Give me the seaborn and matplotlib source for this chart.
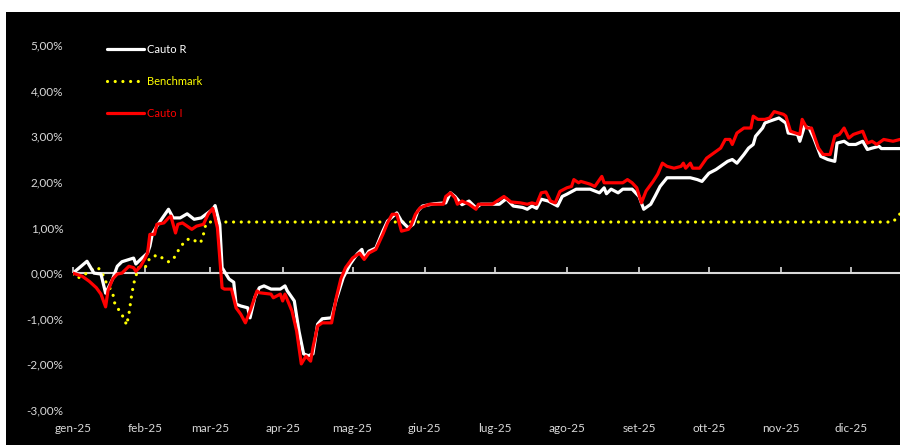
import numpy as np
import pandas as pd
import matplotlib
matplotlib.use("Agg")
import matplotlib.pyplot as plt
import matplotlib.ticker as mticker
from matplotlib.patches import Rectangle
import seaborn as sns

# ------------------------------
# Data (day of year from 1 Jan 2025, cumulative return in %)
# ------------------------------

r_days = [0, 6, 9, 12, 14, 17, 19, 21, 26, 27, 29, 32, 33, 34, 36, 38, 41, 43, 46, 49,
          52, 55, 60, 61, 63, 64, 67, 69, 70, 72, 75, 76, 78, 80, 82, 85, 89, 91, 92, 95,
          97, 99, 101, 103, 105, 107, 111, 113, 116, 119, 122, 124, 125, 127, 130, 133, 135, 139, 141, 144,
          146, 148, 150, 155, 160, 162, 164, 167, 170, 173, 175, 183, 186, 189, 193, 195, 197, 199, 201, 204,
          208, 210, 212, 216, 222, 226, 228, 229, 231, 234, 236, 240, 243, 245, 248, 250, 252, 255, 265, 268,
          270, 273, 276, 281, 283, 285, 288, 290, 292, 293, 296, 297, 299, 303, 306, 307, 311, 312, 314, 316,
          318, 321, 324, 327, 328, 331, 333, 336, 339, 341, 343, 346, 347, 355]
r_vals = [0.00, 0.26, 0.00, -0.02, -0.44, -0.13, 0.15, 0.25, 0.33, 0.20, 0.30, 0.44, 0.59, 0.85, 1.03, 1.18, 1.40, 1.21, 1.21, 1.30,
          1.18, 1.21, 1.40, 1.48, 1.07, 0.12, -0.13, -0.20, -0.68, -0.72, -0.76, -0.98, -0.54, -0.32, -0.28, -0.35, -0.35, -0.28, -0.39, -0.61,
          -1.27, -1.77, -1.81, -1.77, -1.12, -1.00, -0.98, -0.58, -0.10, 0.20, 0.42, 0.52, 0.33, 0.48, 0.55, 0.92, 1.14, 1.32, 1.14, 0.99,
          1.07, 1.36, 1.47, 1.52, 1.54, 1.76, 1.68, 1.50, 1.58, 1.43, 1.51, 1.51, 1.63, 1.47, 1.44, 1.40, 1.47, 1.42, 1.62, 1.58,
          1.47, 1.68, 1.73, 1.84, 1.84, 1.76, 1.87, 1.74, 1.84, 1.76, 1.84, 1.84, 1.68, 1.40, 1.51, 1.70, 1.90, 2.09, 2.09, 2.05,
          2.01, 2.19, 2.27, 2.45, 2.49, 2.41, 2.60, 2.74, 2.82, 3.00, 3.18, 3.29, 3.33, 3.40, 3.29, 3.07, 3.04, 2.89, 3.22, 3.18,
          2.96, 2.56, 2.49, 2.45, 2.85, 2.89, 2.82, 2.82, 2.89, 2.71, 2.74, 2.78, 2.73, 2.73]

i_days = [0, 4, 7, 10, 12, 14, 15, 17, 19, 21, 24, 26, 27, 29, 31, 32, 33, 35, 36, 39,
          41, 42, 44, 45, 47, 49, 51, 53, 56, 58, 60, 62, 64, 65, 68, 70, 72, 74, 76, 79,
          80, 85, 86, 89, 90, 91, 94, 96, 98, 100, 102, 103, 105, 107, 111, 113, 115, 117, 120, 123,
          125, 127, 130, 133, 135, 137, 139, 141, 144, 145, 147, 149, 151, 153, 159, 160, 162, 164, 165, 167,
          170, 173, 174, 180, 182, 185, 188, 192, 195, 197, 199, 201, 203, 205, 207, 209, 212, 214, 215, 217,
          218, 222, 224, 227, 228, 236, 238, 240, 242, 244, 246, 249, 251, 253, 255, 258, 261, 262, 263, 265,
          266, 269, 272, 275, 278, 280, 282, 283, 285, 288, 291, 292, 294, 297, 299, 301, 305, 306, 308, 312,
          313, 315, 317, 320, 322, 325, 327, 329, 331, 333, 335, 339, 341, 343, 345, 348, 352, 355]
i_vals = [0.00, -0.07, -0.18, -0.32, -0.46, -0.74, -0.39, -0.13, -0.02, 0.00, 0.15, 0.12, 0.04, 0.15, 0.33, 0.44, 0.85, 0.85, 1.07, 1.10,
          1.21, 1.25, 0.88, 1.07, 1.10, 1.03, 0.96, 1.03, 1.07, 1.29, 1.42, 0.99, -0.32, -0.35, -0.35, -0.76, -0.90, -1.09, -0.83, -0.39,
          -0.43, -0.46, -0.54, -0.46, -0.61, -0.46, -0.83, -1.27, -1.99, -1.82, -1.93, -1.63, -1.16, -1.09, -1.09, -0.54, -0.12, 0.12, 0.33, 0.44,
          0.30, 0.44, 0.52, 0.85, 1.10, 1.29, 1.29, 0.92, 0.96, 1.03, 1.29, 1.43, 1.47, 1.51, 1.51, 1.68, 1.76, 1.65, 1.51, 1.58,
          1.51, 1.40, 1.51, 1.51, 1.58, 1.68, 1.56, 1.54, 1.51, 1.54, 1.51, 1.76, 1.78, 1.58, 1.54, 1.79, 1.87, 1.90, 2.05, 1.98,
          2.01, 1.95, 1.90, 2.12, 1.98, 1.98, 2.05, 1.98, 1.87, 1.54, 1.80, 2.01, 2.17, 2.41, 2.34, 2.30, 2.34, 2.41, 2.30, 2.41,
          2.30, 2.30, 2.52, 2.63, 2.74, 2.93, 2.93, 2.82, 3.07, 3.18, 3.18, 3.44, 3.37, 3.37, 3.40, 3.54, 3.48, 3.44, 3.11, 3.04,
          3.37, 3.18, 3.18, 2.74, 2.60, 2.60, 3.00, 3.04, 3.18, 2.96, 3.04, 3.11, 2.85, 2.89, 2.82, 2.93, 2.89, 2.93]

b_days = [0, 2, 6, 10, 12, 14, 17, 18, 20, 22, 23, 24, 25, 26, 27, 28, 31, 32, 34, 37,
          39, 41, 43, 45, 47, 49, 52, 53, 55, 56, 57, 58, 100, 150, 200, 250, 300, 352, 355]
b_vals = [-0.02, -0.11, 0.00, 0.13, 0.07, -0.18, -0.43, -0.68, -0.83, -1.00, -1.14, -0.90, -0.54, -0.24, -0.07, 0.12, 0.12, 0.26, 0.37, 0.39,
          0.30, 0.25, 0.30, 0.48, 0.63, 0.74, 0.74, 0.66, 0.70, 0.85, 1.07, 1.12, 1.12, 1.12, 1.12, 1.12, 1.12, 1.12, 1.30]

month_names = ["gen", "feb", "mar", "apr", "mag", "giu", "lug", "ago", "set", "ott", "nov", "dic"]
y_ticks = [-3, -2, -1, 0, 1, 2, 3, 4, 5]

start = pd.Timestamp("2025-01-01")


def to_frame(days, vals):
    return pd.DataFrame({"date": start + pd.to_timedelta(days, unit="D"), "val": vals})


df_r = to_frame(r_days, r_vals)
df_i = to_frame(i_days, i_vals)
df_b = to_frame(b_days, b_vals)

# ------------------------------
# Figure
# ------------------------------

sns.set_style("white")
plt.rcParams["font.family"] = ["Lato", "DejaVu Sans"]

fig = plt.figure(figsize=(9, 4.45), dpi=100, facecolor="white")
fig.patches.append(Rectangle((6 / 900, 0), 1, 433 / 445, transform=fig.transFigure,
                             facecolor="black", edgecolor="none", zorder=-10))

ax = fig.add_axes([73 / 900, 1 - 410 / 445, 1 - 73 / 900, 365 / 445])
ax.set_facecolor("none")

sns.lineplot(data=df_b, x="date", y="val", ax=ax, color="#ffff00", lw=2.3,
             linestyle=(0, (0.01, 2.4)), dash_capstyle="round", label="Benchmark", zorder=3)
sns.lineplot(data=df_r, x="date", y="val", ax=ax, color="white", lw=2.3,
             label="Cauto R", zorder=4)
sns.lineplot(data=df_i, x="date", y="val", ax=ax, color="#ff0000", lw=2.3,
             label="Cauto I", zorder=5)

ax.axhline(0, color="#d9d9d9", lw=1.5, zorder=2)

month_starts = pd.date_range("2025-01-01", periods=12, freq="MS")
ax.set_xlim(start, start + pd.Timedelta(days=355))
ax.set_ylim(-3, 5)
ax.set_xticks(month_starts)
ax.set_xticklabels([f"{m}-25" for m in month_names])
ax.set_yticks(y_ticks)
ax.yaxis.set_major_formatter(mticker.FuncFormatter(lambda v, p: f"{v:.2f}%".replace(".", ",")))
ax.tick_params(axis="both", length=0, colors="#d9d9d9", labelsize=8.5)
ax.tick_params(axis="x", pad=9)
ax.tick_params(axis="y", pad=7)
ax.set_xlabel("")
ax.set_ylabel("")
for s in ax.spines.values():
    s.set_visible(False)

# small ticks on the zero line
sec = ax.secondary_xaxis(3 / 8)
sec.set_xticks(month_starts)
sec.set_xticklabels([])
sec.tick_params(axis="x", direction="in", length=4, width=1.2, colors="#d9d9d9")
for s in sec.spines.values():
    s.set_visible(False)

# legend
handles, labels = ax.get_legend_handles_labels()
order = [labels.index("Cauto R"), labels.index("Benchmark"), labels.index("Cauto I")]
leg = ax.legend([handles[k] for k in order], [labels[k] for k in order],
                loc="upper left", bbox_to_anchor=(107 / 900, 1 - 44 / 445),
                bbox_transform=fig.transFigure, frameon=False, fontsize=8,
                handlelength=3.3, handletextpad=0.3, labelspacing=1.9,
                borderpad=0, borderaxespad=0, labelcolor="linecolor")

fig.savefig("out.png", dpi=100, facecolor=fig.get_facecolor())
